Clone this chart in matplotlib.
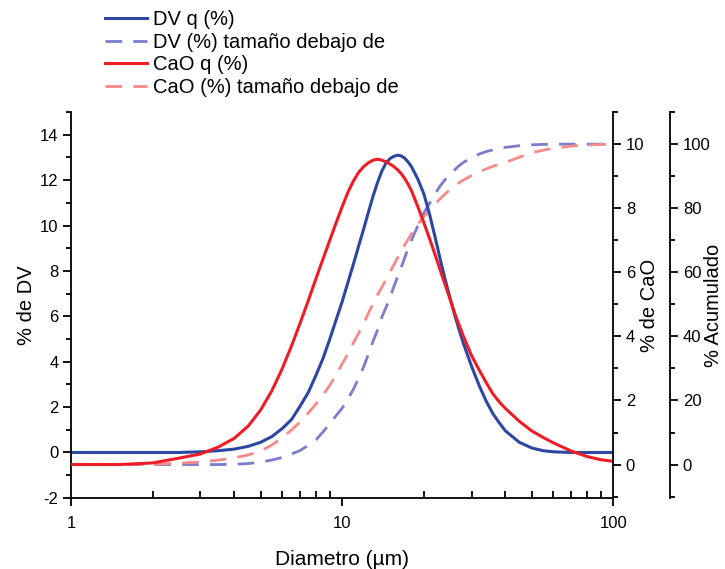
import matplotlib
matplotlib.use("Agg")
import matplotlib.pyplot as plt
from matplotlib.ticker import MultipleLocator, FixedLocator, FixedFormatter, LogLocator, NullFormatter

plt.rcParams['font.family'] = ['Liberation Sans', 'DejaVu Sans']
plt.rcParams['axes.unicode_minus'] = False

# diameter grid (um)
diam = [1, 1.5, 2, 2.5, 3, 3.5, 4, 4.5, 5, 5.5, 6, 6.5, 7, 7.5, 8,
        8.5, 9, 9.5, 10, 10.5, 11, 11.5, 12, 12.5, 13, 13.5, 14, 14.5, 15, 15.5, 16, 16.5, 17, 17.5, 18,
        19, 20, 21, 22, 23, 24, 25, 26, 27, 28,
        30, 32, 34, 36, 38, 40,
        45, 50, 55, 60,
        70, 80, 90, 100]

# DV q (%) - left axis
dv_q = [0, 0, 0, 0, 0.03, 0.08, 0.15, 0.27, 0.45, 0.7, 1.05, 1.45, 2.05, 2.65, 3.4,
        4.15, 5.0, 5.85, 6.65, 7.5, 8.3, 9.1, 9.85, 10.6, 11.3, 11.9, 12.4, 12.75, 12.95, 13.05, 13.1, 13.07, 12.97, 12.8, 12.6,
        12.05, 11.4, 10.5, 9.5, 8.5, 7.6, 6.8, 6.05, 5.4, 4.8,
        3.8, 2.95, 2.25, 1.7, 1.3, 0.95,
        0.45, 0.2, 0.08, 0.03,
        0, 0, 0, 0]

# CaO q (%) - CaO axis
cao_q = [0, 0, 0.05, 0.2, 0.33, 0.55, 0.82, 1.2, 1.7, 2.3, 2.98, 3.7, 4.42, 5.12, 5.8,
         6.42, 7.0, 7.55, 8.05, 8.5, 8.85, 9.12, 9.3, 9.42, 9.5, 9.53, 9.5, 9.45, 9.38, 9.3, 9.2, 9.08, 8.93, 8.75, 8.55,
         8.05, 7.55, 7.05, 6.55, 6.06, 5.6, 5.15, 4.72, 4.35, 4.0,
         3.4, 2.95, 2.55, 2.2, 1.95, 1.75,
         1.35, 1.05, 0.85, 0.68,
         0.42, 0.25, 0.15, 0.1]

# cumulative (%) - Acumulado axis
dv_cum = [0, 0, 0, 0, 0, 0, 0.1, 0.3, 0.8, 1.4, 2.2, 3.3, 4.4, 6.0, 7.7,
          10.2, 12.8, 15.3, 17.6, 20.5, 23.5, 27, 30.5, 34.5, 38.5, 42, 46, 49, 52, 55.5, 58.5, 61.5, 64.5, 67.5, 70,
          74.5, 78.5, 81.5, 84.5, 87, 89, 90.7, 92, 93.3, 94.3,
          95.8, 96.9, 97.7, 98.2, 98.7, 99.0,
          99.5, 99.8, 99.9, 100,
          100, 100, 100, 100]
cao_cum = [0, 0, 0.1, 0.4, 0.8, 1.4, 2.1, 3.0, 4.2, 6.1, 8.3, 10.8, 13.3, 16.1, 18.9,
           21.8, 24.7, 28, 31.5, 34.5, 38, 41, 44, 47.3, 50.3, 53, 55.3, 57.7, 60, 62.3, 64.5, 66.5, 68.5, 70.3, 72,
           75, 77.3, 79.3, 81.3, 83, 84.5, 85.8, 87, 88, 88.8,
           90.2, 91.3, 92.3, 93.1, 93.7, 94.3,
           95.9, 97.3, 98.1, 98.7,
           99.4, 99.7, 99.9, 100]

blue = '#2b47a3'
red = '#ee1c25'
blue_l = '#7a7ccc'
red_l = '#f58a8a'

fig = plt.figure(figsize=(7.25, 5.69), dpi=100)
ax = fig.add_axes([0.098, 0.125, 0.748, 0.678])
ax2 = ax.twinx()
ax3 = ax.twinx()

# cumulative curves underneath, CaO on top
ax3.set_zorder(1)
ax.set_zorder(2)
ax2.set_zorder(3)
for a in (ax, ax2, ax3):
    a.patch.set_visible(False)

ln3, = ax3.plot(diam, dv_cum, color=blue_l, lw=2, ls=(0, (6, 4)), label='DV (%) tamaño debajo de')
ln4, = ax3.plot(diam, cao_cum, color=red_l, lw=2, ls=(0, (6, 4)), label='CaO (%) tamaño debajo de')
ln1, = ax.plot(diam, dv_q, color=blue, lw=2.2, label='DV q (%)')
ln2, = ax2.plot(diam, cao_q, color=red, lw=2.2, label='CaO q (%)')

ax.set_xscale('log')
ax.set_xlim(1, 100)
ax.set_ylim(-2, 15)
ax2.set_ylim(-1.04, 11.0)
ax3.set_ylim(-10.4, 110)

for a in (ax, ax2, ax3):
    a.spines['top'].set_visible(False)
ax.spines['right'].set_visible(False)
ax3.spines['right'].set_position(('outward', 41))
for a in (ax2, ax3):
    a.spines['left'].set_visible(False)
    a.spines['bottom'].set_visible(False)
for a in (ax, ax2, ax3):
    for s in a.spines.values():
        s.set_linewidth(1.3)

ax.xaxis.set_major_locator(FixedLocator([1, 10, 100]))
ax.xaxis.set_major_formatter(FixedFormatter(['1', '10', '100']))
ax.xaxis.set_minor_locator(LogLocator(base=10, subs=range(2, 10)))
ax.xaxis.set_minor_formatter(NullFormatter())
ax.tick_params(axis='x', which='major', direction='out', length=6, width=1.3, labelsize=12, pad=7)
ax.tick_params(axis='x', which='minor', direction='in', length=5, width=1.3)

ax.yaxis.set_major_locator(MultipleLocator(2))
ax.yaxis.set_minor_locator(MultipleLocator(1))
ax2.set_yticks([0, 2, 4, 6, 8, 10])
ax2.yaxis.set_minor_locator(MultipleLocator(1))
ax3.set_yticks([0, 20, 40, 60, 80, 100])
ax3.yaxis.set_minor_locator(MultipleLocator(10))
for a in (ax, ax2, ax3):
    a.tick_params(axis='y', which='major', direction='out', length=6, width=1.3, labelsize=12, pad=3)
    a.tick_params(axis='y', which='minor', direction='out', length=3.5, width=1.3)

ax.set_xlabel('Diametro (µm)', fontsize=15, labelpad=14)
ax.set_ylabel('% de DV', fontsize=14.5, labelpad=3)
ax2.set_ylabel('% de CaO', fontsize=14.5, labelpad=-3)
ax3.set_ylabel('% Acumulado', fontsize=14.5, labelpad=-4.5)

fig.legend(handles=[ln1, ln3, ln2, ln4], loc='upper left', bbox_to_anchor=(0.145, 0.982),
           frameon=False, fontsize=14.5, handlelength=2.1, labelspacing=0.18, handletextpad=0.3,
           borderpad=0, borderaxespad=0)

fig.savefig('out.png', dpi=100, facecolor='white')
